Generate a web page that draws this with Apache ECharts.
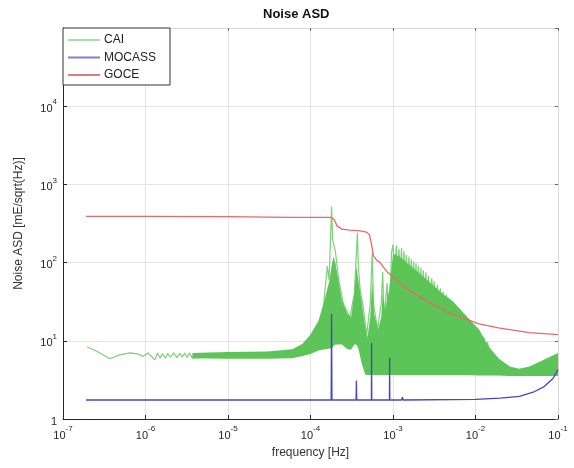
<!DOCTYPE html>
<html>
<head>
<meta charset="utf-8">
<script src="https://cdn.jsdelivr.net/npm/echarts@6/dist/echarts.min.js"></script>
<style>html,body{margin:0;padding:0;background:#fff}#c{width:574px;height:468px}</style>
</head>
<body>
<div id="c"></div>
<script>
// ---- data ----
const titleText = 'Noise ASD';
const xName = 'frequency [Hz]';
const yName = 'Noise ASD [mE/sqrt(Hz)]';
const legendNames = ['CAI', 'MOCASS', 'GOCE'];

// GOCE (red)
const goceFreq = [1.9e-7, 1e-6, 1e-5, 3e-5, 6e-5, 1e-4, 1.8e-4, 1.95e-4, 2.1e-4, 2.4e-4, 3e-4, 4e-4, 4.8e-4, 5.2e-4, 5.5e-4, 5.8e-4, 6.3e-4, 7e-4, 7.6e-4, 8.5e-4, 1e-3, 1.2e-3, 1.75e-3, 2.8e-3, 4.5e-3, 7e-3, 1.1e-2, 1.9e-2, 4.5e-2, 0.1];
const goceVal  = [390, 390, 388, 382, 378, 378, 378, 350, 295, 268, 260, 255, 245, 225, 170, 122, 108, 100, 88, 76, 66, 55, 41, 30.5, 23.5, 19.7, 16.5, 14.6, 12.7, 12];

// MOCASS (blue)
const mocFreq = [1.9e-7, 1e-5, 1.78e-4, 1.8e-4, 1.82e-4, 3.57e-4, 3.6e-4, 3.63e-4, 5.47e-4, 5.5e-4, 5.53e-4, 9.05e-4, 9.1e-4, 9.15e-4, 1.27e-3, 1.3e-3, 1.33e-3, 1e-2, 2e-2, 3.4e-2, 5e-2, 6.8e-2, 8.7e-2, 0.1];
const mocVal  = [1.75, 1.75, 1.75, 22, 1.75, 1.75, 3.1, 1.75, 1.75, 9.4, 1.75, 1.75, 6.1, 1.75, 1.75, 1.9, 1.75, 1.78, 1.85, 1.95, 2.2, 2.6, 3.3, 4.3];

// CAI (green) trace: low-frequency wiggle, resonance peaks and spikes
const caiFreq = [1.95e-7, 2.6e-7, 3.7e-7, 4.9e-7, 6.5e-7, 8e-7, 9.3e-7, 1.07e-6, 1.2e-6, 1.3e-6, 1.4e-6, 1.5e-6, 1.6e-6, 1.75e-6, 1.85e-6, 2.0e-6, 2.2e-6, 2.4e-6, 2.6e-6, 2.8e-6, 3.0e-6, 3.2e-6, 3.4e-6, 3.7e-6,
  1e-5, 5e-5, 1e-4, 1.4e-4, 1.5e-4, 1.6e-4, 1.68e-4, 1.75e-4, 1.8e-4, 1.85e-4, 2e-4, 2.2e-4, 2.5e-4, 3e-4, 3.4e-4, 3.55e-4, 3.7e-4, 3.8e-4, 4.0e-4, 4.3e-4, 4.8e-4, 5.3e-4, 5.6e-4, 5.8e-4, 6.5e-4, 7.2e-4, 7.5e-4, 7.8e-4, 8.5e-4, 8.8e-4, 9.6e-4,
  1.0e-3, 1.04e-3, 1.1e-3, 1.13e-3, 1.18e-3, 1.22e-3, 1.27e-3, 1.31e-3, 1.36e-3, 1.4e-3, 1.45e-3, 1.5e-3, 1.56e-3, 1.61e-3, 1.67e-3, 1.72e-3, 1.78e-3, 1.84e-3, 1.9e-3, 1.96e-3, 2.03e-3, 2.1e-3, 2.18e-3, 2.25e-3, 2.33e-3, 2.42e-3, 2.5e-3, 2.6e-3, 2.7e-3, 2.82e-3, 2.95e-3, 3.05e-3, 3.15e-3, 3.3e-3, 3.45e-3, 3.6e-3, 3.75e-3, 3.9e-3, 4.05e-3, 4.25e-3, 4.45e-3, 4.65e-3, 4.85e-3, 5.05e-3, 5.3e-3, 5.55e-3, 5.8e-3, 6.1e-3, 6.4e-3, 6.7e-3, 7.0e-3, 7.4e-3, 7.8e-3, 8.2e-3, 8.6e-3, 9.0e-3, 9.4e-3, 9.9e-3, 1.04e-2, 1.09e-2, 1.15e-2, 1.21e-2, 1.27e-2, 1.33e-2, 1.4e-2, 1.5e-2];
const caiVal  = [8.4, 7.3, 5.9, 6.6, 7.0, 6.8, 6.3, 7.0, 6.2, 5.7, 7.0, 6.0, 6.8, 6.0, 6.9, 6.2, 7.0, 6.1, 6.9, 6.2, 7.0, 6.1, 7.0, 6.0,
  6.5, 6.8, 9, 20, 45, 90, 60, 200, 520, 200, 140, 60, 30, 20, 40, 100, 240, 90, 45, 30, 12, 30, 134, 30, 14, 30, 76, 20, 55, 10, 134,
  170, 70, 165, 70, 150, 65, 155, 60, 140, 60, 125, 55, 120, 55, 110, 50, 103, 48, 98, 45, 92, 42, 86, 40, 80, 36, 75, 34, 68, 32, 63, 29, 58, 27, 52, 25, 47, 23, 43, 21, 39, 19, 35, 17, 31.6, 16, 28, 14, 26, 13, 22, 12, 19.5, 11, 17.5, 10, 15, 9, 13.5, 8, 12, 7, 11, 6.5, 9.7, 6];

// CAI dense band (lower / upper envelope of the filled region)
const bandFreq = [3.7e-6, 1e-5, 3e-5, 6e-5, 8e-5, 1e-4, 1.25e-4, 1.5e-4, 1.7e-4, 1.8e-4, 1.9e-4, 2.0e-4, 2.4e-4, 2.8e-4, 3.1e-4, 3.4e-4, 3.6e-4, 3.8e-4, 4.2e-4, 4.6e-4, 4.9e-4, 5.3e-4, 5.6e-4, 5.9e-4, 6.6e-4, 7.2e-4, 7.5e-4, 8e-4, 8.5e-4, 9e-4, 1e-3, 1.2e-3, 1.75e-3, 2.6e-3, 4e-3, 5.3e-3, 8e-3, 1.1e-2, 1.45e-2, 1.9e-2, 2.6e-2, 3.4e-2, 4.5e-2, 6e-2, 7.9e-2, 0.1];
const bandLow  = [6.0, 5.9, 5.9, 6.0, 6.4, 6.8, 7.5, 7.8, 8, 8, 8.5, 9, 9, 7.8, 7.7, 9, 9, 8, 5, 3.7, 3.66, 3.66, 3.66, 3.66, 3.66, 3.66, 3.66, 3.66, 3.66, 3.66, 3.66, 3.66, 3.66, 3.66, 3.66, 3.66, 3.66, 3.6, 3.6, 3.6, 3.55, 3.55, 3.55, 3.55, 3.55, 3.55];
const bandHigh = [7.0, 7.2, 7.3, 7.8, 9.2, 12, 18, 35, 60, 90, 120, 100, 33, 22, 20, 40, 90, 60, 30, 15, 11, 20, 60, 22, 14, 20, 40, 25, 35, 45, 130, 120, 85, 60, 40, 32, 20, 14, 8.4, 6.0, 4.7, 4.4, 4.7, 5.4, 6.2, 7.0];

// axis range (decades)
const xMin = 1e-7, xMax = 1e-1;
const yMin = 1, yMax = 1e5;

// ---- chart ----
const pair = (f, v) => f.map((x, i) => [x, v[i]]);
const supLabel = v => {
  const e = Math.round(Math.log10(v));
  if (e === 0) return '{b|1}';
  return '{b|10}{s|' + e + '}';
};
const rich = {
  b: { fontSize: 11, color: '#262626', fontFamily: 'Liberation Sans, Arial, sans-serif', lineHeight: 16, verticalAlign: 'bottom' },
  s: { fontSize: 8, color: '#262626', fontFamily: 'Liberation Sans, Arial, sans-serif', lineHeight: 16, verticalAlign: 'top', padding: [0, 0, 6, 0] }
};
const gridColor = '#e4e4e4';
const axisColor = '#262626';

const chart = echarts.init(document.getElementById('c'));
chart.setOption({
  animation: false,
  backgroundColor: '#fff',
  title: {
    text: titleText, left: 258, top: 3,
    textStyle: { fontSize: 13, fontWeight: 'bold', color: '#111', fontFamily: 'Liberation Sans, Arial, sans-serif' }
  },
  grid: { left: 63, right: 16, top: 28, bottom: 49, containLabel: false },
  legend: {
    data: [
      { name: legendNames[0], itemStyle: { color: '#a3e3a3' } },
      { name: legendNames[1], itemStyle: { color: '#7f7fdc' } },
      { name: legendNames[2], itemStyle: { color: '#e27a7a' } }
    ],
    orient: 'vertical', left: 63, top: 28,
    icon: 'rect', itemWidth: 32, itemHeight: 2, itemGap: 5.5,
    padding: [6, 14, 4, 5],
    backgroundColor: '#fff', borderColor: '#333', borderWidth: 1,
    textStyle: { fontSize: 12, color: '#222', fontFamily: 'Liberation Sans, Arial, sans-serif', padding: [0, 0, 0, -1] }
  },
  xAxis: [{
    type: 'log', logBase: 10, min: xMin, max: xMax,
    name: xName, nameLocation: 'middle', nameGap: 28,
    nameTextStyle: { fontSize: 12, color: '#333', fontFamily: 'Liberation Sans, Arial, sans-serif' },
    axisLine: { show: true, lineStyle: { color: axisColor, width: 1 } },
    axisTick: { show: true, inside: true, length: 4, lineStyle: { color: axisColor } },
    axisLabel: { formatter: supLabel, rich: rich, margin: 6 },
    splitLine: { show: true, lineStyle: { color: gridColor, width: 1 } },
    minorTick: { show: false }
  }, {
    type: 'log', logBase: 10, min: xMin, max: xMax, position: 'top',
    axisLine: { show: true, lineStyle: { color: '#d8d8d8', width: 1 } },
    axisTick: { show: true, inside: true, length: 3, lineStyle: { color: '#666' } },
    axisLabel: { show: false }, splitLine: { show: false }
  }],
  yAxis: [{
    type: 'log', logBase: 10, min: yMin, max: yMax,
    name: yName, nameLocation: 'middle', nameGap: 38,
    nameTextStyle: { fontSize: 12, color: '#333', fontFamily: 'Liberation Sans, Arial, sans-serif' },
    axisLine: { show: true, lineStyle: { color: axisColor, width: 1 } },
    axisTick: { show: true, inside: true, length: 4, lineStyle: { color: axisColor } },
    axisLabel: { formatter: supLabel, rich: rich, margin: 6, showMaxLabel: false },
    splitLine: { show: true, lineStyle: { color: gridColor, width: 1 } }
  }, {
    type: 'log', logBase: 10, min: yMin, max: yMax, position: 'right',
    axisLine: { show: true, lineStyle: { color: '#d8d8d8', width: 1 } },
    axisTick: { show: true, inside: true, length: 3, lineStyle: { color: '#666' } },
    axisLabel: { show: false }, splitLine: { show: false }
  }],
  series: [
    {
      name: 'CAI band', type: 'custom', xAxisIndex: 0, yAxisIndex: 0, silent: true, z: 1,
      data: bandFreq.map((f, i) => [f, bandLow[i], bandHigh[i]]),
      encode: { x: 0, y: [1, 2] },
      renderItem: function (params, api) {
        if (params.dataIndex !== 0) return null;
        const pts = [];
        for (let i = 0; i < bandFreq.length; i++) pts.push(api.coord([bandFreq[i], bandHigh[i]]));
        for (let i = bandFreq.length - 1; i >= 0; i--) pts.push(api.coord([bandFreq[i], bandLow[i]]));
        return { type: 'polygon', shape: { points: pts }, style: { fill: '#5cc458' } };
      }
    },
    {
      name: 'CAI', type: 'line', data: pair(caiFreq, caiVal), showSymbol: false, z: 2,
      lineStyle: { color: 'rgba(92,198,86,0.8)', width: 1.2 }, itemStyle: { color: '#a3e3a3' }
    },
    {
      name: 'MOCASS', type: 'line', data: pair(mocFreq, mocVal), showSymbol: false, z: 3,
      lineStyle: { color: '#4646c4', width: 1.3 }, itemStyle: { color: '#7f7fdc' }
    },
    {
      name: 'GOCE', type: 'line', data: pair(goceFreq, goceVal), showSymbol: false, z: 4,
      lineStyle: { color: '#e46a6c', width: 1.3 }, itemStyle: { color: '#e27a7a' }
    }
  ]
});
</script>
</body>
</html>
